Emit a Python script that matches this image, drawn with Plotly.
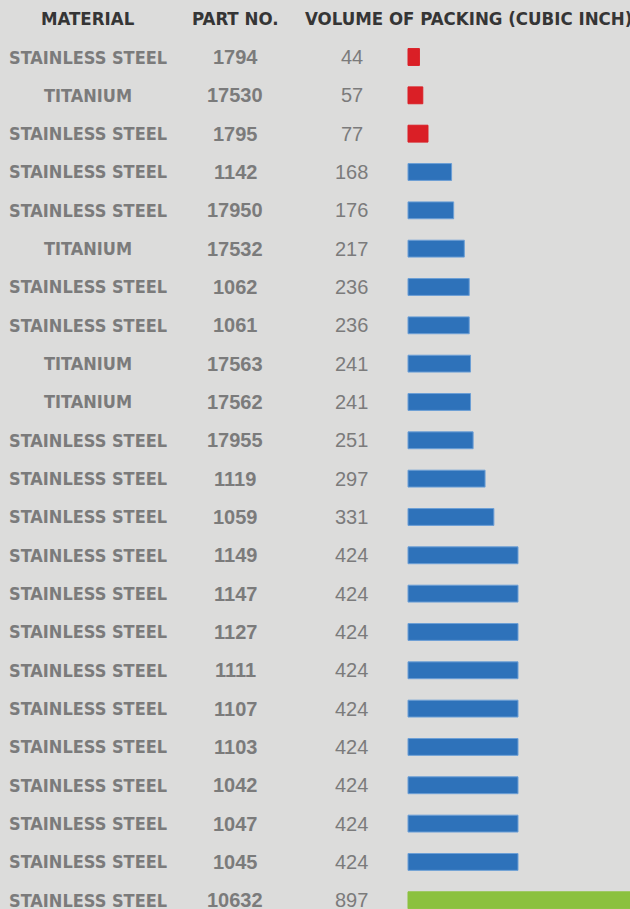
import plotly.graph_objects as go

# Packing volume per part
materials = [
    "STAINLESS STEEL", "TITANIUM", "STAINLESS STEEL", "STAINLESS STEEL",
    "STAINLESS STEEL", "TITANIUM", "STAINLESS STEEL", "STAINLESS STEEL",
    "TITANIUM", "TITANIUM", "STAINLESS STEEL", "STAINLESS STEEL",
    "STAINLESS STEEL", "STAINLESS STEEL", "STAINLESS STEEL", "STAINLESS STEEL",
    "STAINLESS STEEL", "STAINLESS STEEL", "STAINLESS STEEL", "STAINLESS STEEL",
    "STAINLESS STEEL", "STAINLESS STEEL", "STAINLESS STEEL",
]
part_numbers = [
    "1794", "17530", "1795", "1142", "17950", "17532", "1062", "1061",
    "17563", "17562", "17955", "1119", "1059", "1149", "1147", "1127",
    "1111", "1107", "1103", "1042", "1047", "1045", "10632",
]
volumes = [
    44, 57, 77, 168, 176, 217, 236, 236, 241, 241, 251, 297, 331,
    424, 424, 424, 424, 424, 424, 424, 424, 424, 897,
]
headers = ["MATERIAL", "PART NO.", "VOLUME OF PACKING (CUBIC INCH)"]

W, H = 630, 909
BG = "#dcdcdb"
RED, BLUE, GREEN = "#da1f26", "#2e72ba", "#8bc13f"
COND = "Liberation Sans Narrow, DejaVu Sans Condensed, Arial Narrow, sans-serif"
ARIAL = "Liberation Sans, Arial, sans-serif"


def tier_color(v):
    if v < 100:
        return RED
    if v > 800:
        return GREEN
    return BLUE


colors = [tier_color(v) for v in volumes]
outline = ["#6c9fd6" if c == BLUE else c for c in colors]

# horizontal scale: pixels per cubic inch, bars start at x=408px
px_per_unit = 110 / 424
x0_px = 408
x_range = [-x0_px / px_per_unit, (W - x0_px) / px_per_unit]

# vertical layout: first row centre at 57px, rows 38.33px apart
row_px = 38.33
top_px = 57
y_top = -top_px / row_px
y_bottom = y_top + H / row_px
rows = list(range(len(volumes)))

fig = go.Figure(
    go.Bar(
        x=volumes,
        y=rows,
        orientation="h",
        width=0.44,
        marker=dict(color=colors, line=dict(color=outline, width=1)),
        hoverinfo="skip",
    )
)

annotations = []
col_x = [87.5, 235, 351.5]
for i, (m, p, v) in enumerate(zip(materials, part_numbers, volumes)):
    annotations.append(dict(
        x=col_x[0] / W, xref="paper", y=i, yref="y", text=m,
        showarrow=False, xanchor="center", yanchor="middle",
        font=dict(family=COND, size=18, color="#7b7b7b", weight="bold"),
    ))
    annotations.append(dict(
        x=col_x[1] / W, xref="paper", y=i, yref="y", text=p,
        showarrow=False, xanchor="center", yanchor="middle",
        font=dict(family=ARIAL, size=20, color="#7b7b7b", weight="bold"),
    ))
    annotations.append(dict(
        x=col_x[2] / W, xref="paper", y=i, yref="y", text=str(v),
        showarrow=False, xanchor="center", yanchor="middle",
        font=dict(family=ARIAL, size=20, color="#7b7b7b"),
    ))

header_x = [87.5, 235.5, 468]
for hx, t in zip(header_x, headers):
    annotations.append(dict(
        x=hx / W, xref="paper", y=1 - 19 / H, yref="paper", text=t,
        showarrow=False, xanchor="center", yanchor="middle",
        font=dict(family=COND, size=18.5, color="#353535", weight="bold"),
    ))

fig.update_layout(
    width=W, height=H,
    margin=dict(l=0, r=0, t=0, b=0),
    paper_bgcolor=BG, plot_bgcolor=BG,
    showlegend=False,
    xaxis=dict(range=x_range, visible=False, fixedrange=True),
    yaxis=dict(range=[y_bottom, y_top], visible=False, fixedrange=True),
    annotations=annotations,
)

fig.write_html("out.html")
